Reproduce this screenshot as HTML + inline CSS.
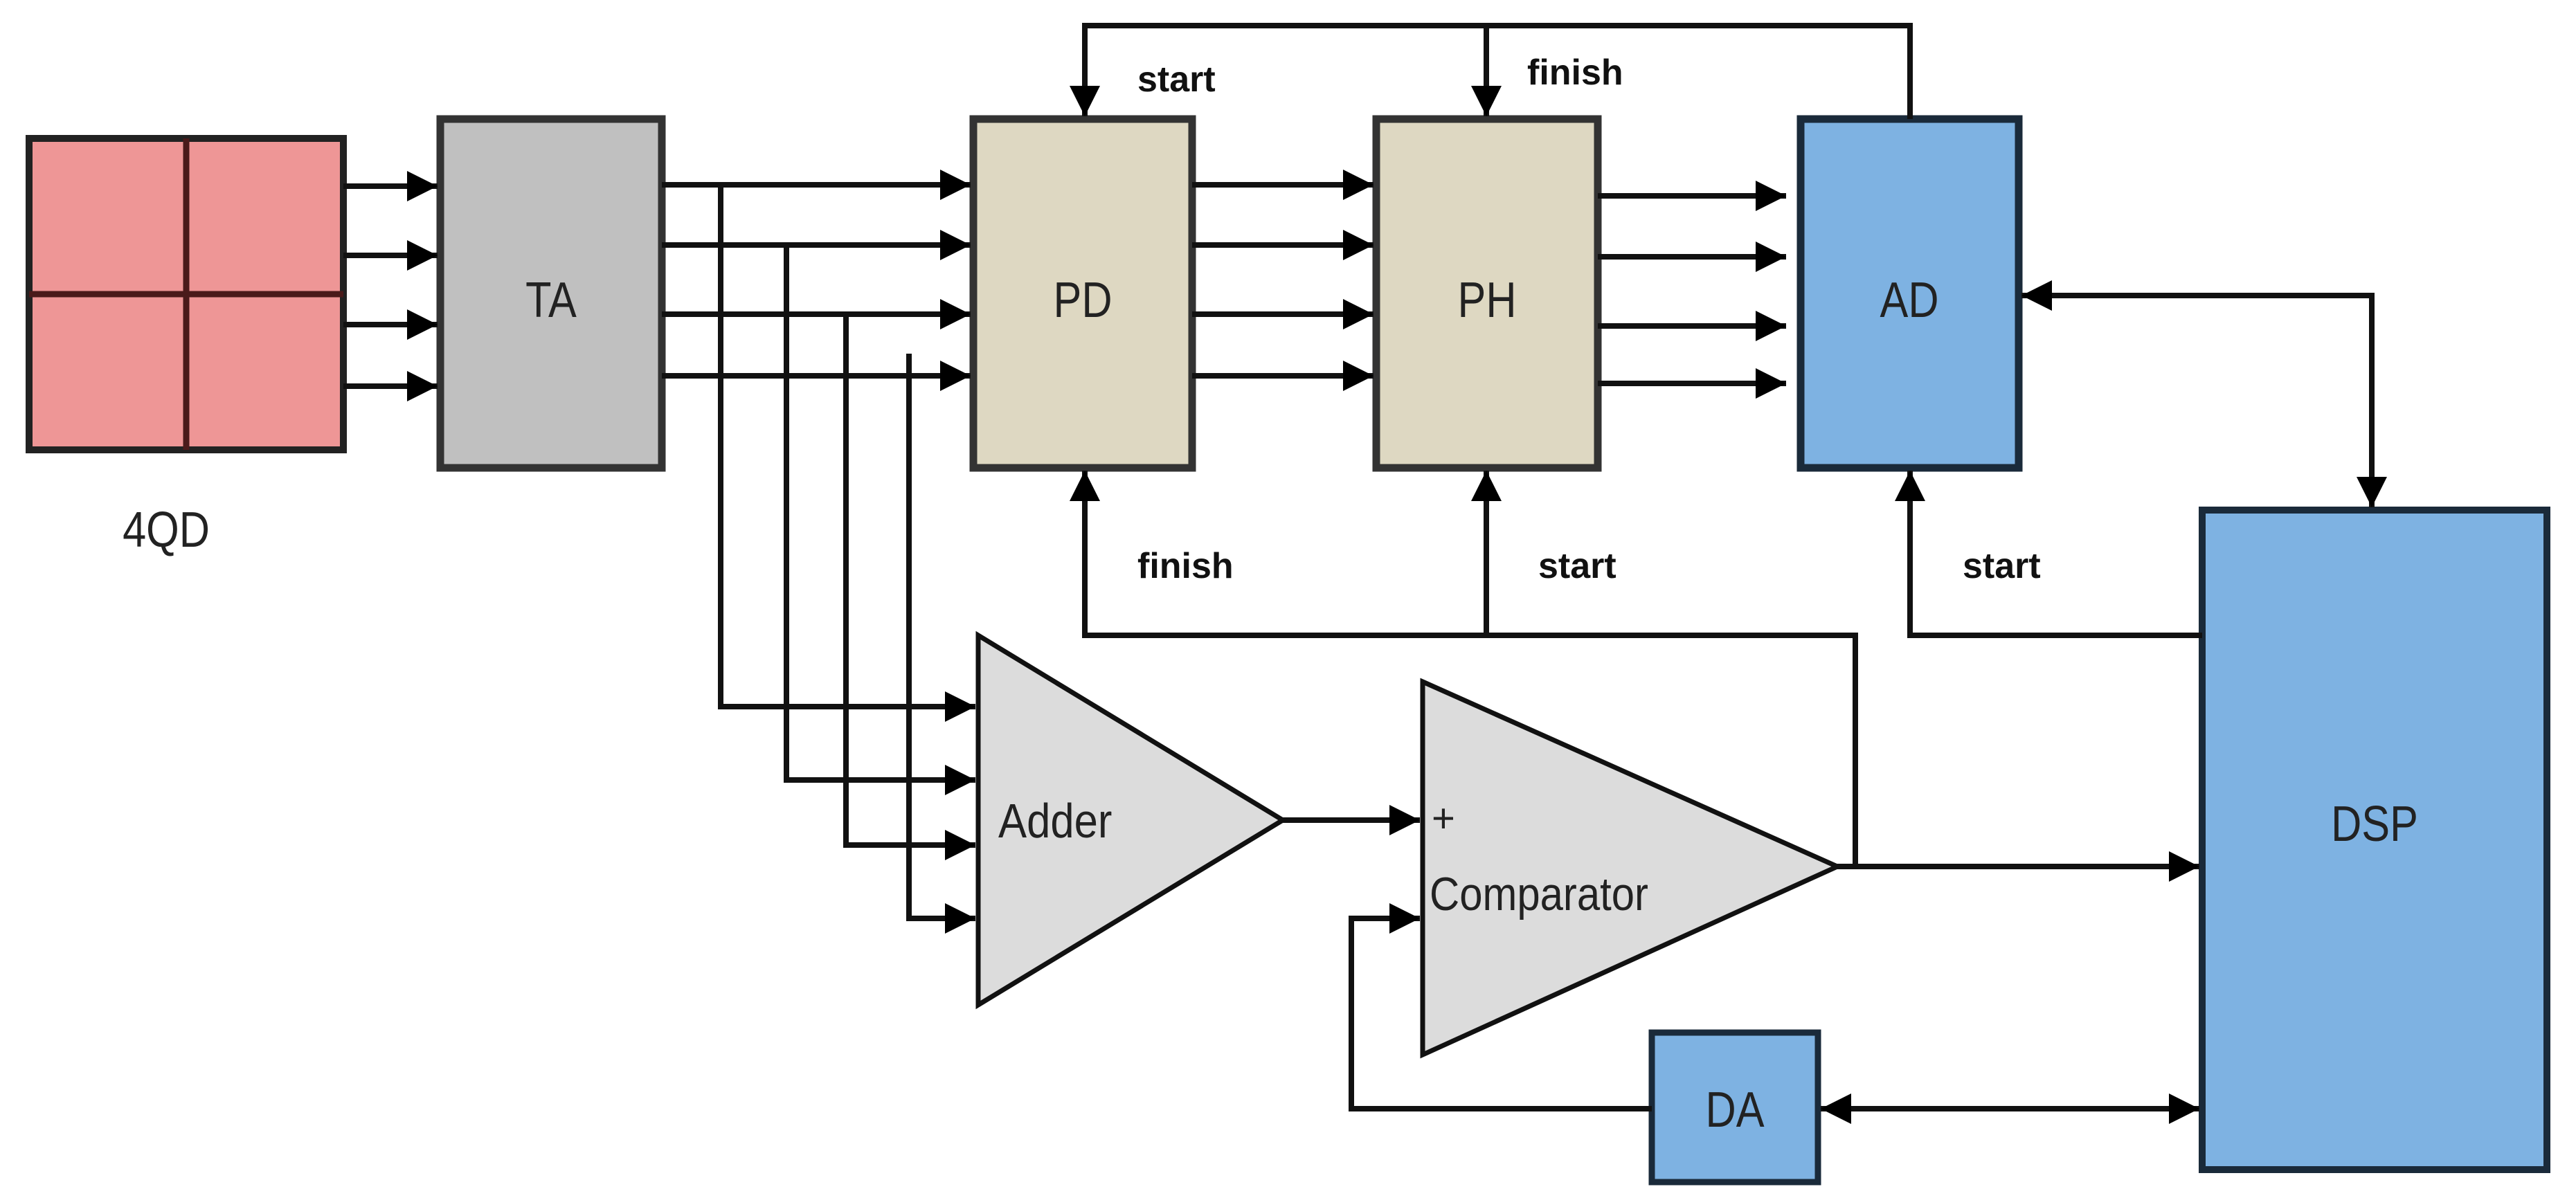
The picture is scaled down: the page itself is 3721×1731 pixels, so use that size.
<!DOCTYPE html>
<html><head><meta charset="utf-8"><style>
html,body{margin:0;padding:0;background:#fff}
svg{display:block}
.l{stroke:#111;stroke-width:8;fill:none}
.t{font-family:"Liberation Sans",sans-serif;fill:#222}
.b{font-family:"Liberation Sans",sans-serif;font-weight:bold;font-size:52px;fill:#111}
</style></head><body>
<svg width="3721" height="1731" viewBox="0 0 3721 1731" xmlns="http://www.w3.org/2000/svg">
<defs>
<marker id="a" viewBox="0 0 10 10" refX="10" refY="5" markerWidth="5.5" markerHeight="5.5" markerUnits="strokeWidth" orient="auto-start-reverse">
<path d="M0,0 L10,5 L0,10 z" fill="#000"/></marker>
</defs>
<!-- 4QD -->
<rect x="42" y="200" width="454" height="450" fill="#ee9696" stroke="#222" stroke-width="10"/>
<line x1="269" y1="200" x2="269" y2="650" stroke="#4a1a1a" stroke-width="9"/>
<line x1="42" y1="425" x2="496" y2="425" stroke="#4a1a1a" stroke-width="9"/>
<text transform="translate(240,790) scale(0.85,1)" class="t" font-size="72" text-anchor="middle">4QD</text>
<!-- TA -->
<rect x="636" y="172" width="320" height="504" fill="#c0c0c0" stroke="#333" stroke-width="11"/>
<text transform="translate(796,458) scale(0.85,1)" class="t" font-size="72" text-anchor="middle">TA</text>
<!-- PD -->
<rect x="1406" y="172" width="316" height="504" fill="#ded8c2" stroke="#333" stroke-width="11"/>
<text transform="translate(1564,458) scale(0.85,1)" class="t" font-size="72" text-anchor="middle">PD</text>
<!-- PH -->
<rect x="1988" y="172" width="320" height="504" fill="#ded8c2" stroke="#333" stroke-width="11"/>
<text transform="translate(2148,458) scale(0.85,1)" class="t" font-size="72" text-anchor="middle">PH</text>
<!-- AD -->
<rect x="2601" y="172" width="315" height="504" fill="#7eb2e2" stroke="#1a2a3a" stroke-width="11"/>
<text transform="translate(2758,458) scale(0.85,1)" class="t" font-size="72" text-anchor="middle">AD</text>
<!-- DSP -->
<rect x="3181" y="737" width="498" height="953" fill="#7eb2e2" stroke="#1a2a3a" stroke-width="10"/>
<text transform="translate(3430,1215) scale(0.85,1)" class="t" font-size="72" text-anchor="middle">DSP</text>
<!-- DA -->
<rect x="2386" y="1492" width="240" height="216" fill="#7eb2e2" stroke="#1a2a3a" stroke-width="9"/>
<text transform="translate(2506,1628) scale(0.85,1)" class="t" font-size="72" text-anchor="middle">DA</text>
<!-- Adder -->
<polygon points="1413,918 1853,1185 1413,1452" fill="#dcdcdc" stroke="#111" stroke-width="7"/>
<text transform="translate(1442,1210) scale(0.88,1)" class="t" font-size="70">Adder</text>
<!-- Comparator -->
<polygon points="2055,985 2654,1252 2055,1524" fill="#dcdcdc" stroke="#111" stroke-width="7"/>
<text x="2068" y="1202" class="t" font-size="58">+</text>
<text transform="translate(2065,1315) scale(0.88,1)" class="t" font-size="68">Comparator</text>

<g class="l" marker-end="url(#a)">
<line x1="496" y1="269" x2="632" y2="269"/>
<line x1="496" y1="369" x2="632" y2="369"/>
<line x1="496" y1="469" x2="632" y2="469"/>
<line x1="496" y1="558" x2="632" y2="558"/>
<line x1="956" y1="267" x2="1402" y2="267"/>
<line x1="956" y1="354" x2="1402" y2="354"/>
<line x1="956" y1="454" x2="1402" y2="454"/>
<line x1="956" y1="543" x2="1402" y2="543"/>
<line x1="1722" y1="267" x2="1984" y2="267"/>
<line x1="1722" y1="354" x2="1984" y2="354"/>
<line x1="1722" y1="454" x2="1984" y2="454"/>
<line x1="1722" y1="543" x2="1984" y2="543"/>
<line x1="2308" y1="283" x2="2580" y2="283"/>
<line x1="2308" y1="371" x2="2580" y2="371"/>
<line x1="2308" y1="471" x2="2580" y2="471"/>
<line x1="2308" y1="554" x2="2580" y2="554"/>
<polyline points="1041,267 1041,1021 1409,1021"/>
<polyline points="1136,354 1136,1127 1409,1127"/>
<polyline points="1222,454 1222,1221 1409,1221"/>
<polyline points="1313,511 1313,1327 1409,1327"/>
<line x1="1853" y1="1185" x2="2051" y2="1185"/>
<polyline points="2386,1602 1952,1602 1952,1327 2051,1327"/>
<line x1="2654" y1="1252" x2="3177" y2="1252"/>
<polyline points="2759,172 2759,37 1567,37 1567,168"/>
<line x1="2147" y1="37" x2="2147" y2="168"/>
<polyline points="2680,1252 2680,918 1567,918 1567,680"/>
<line x1="2147" y1="918" x2="2147" y2="680"/>
<polyline points="3181,918 2759,918 2759,680"/>
</g>
<polyline class="l" points="2920,427 3426,427 3426,733" marker-start="url(#a)" marker-end="url(#a)"/>
<line class="l" x1="2630" y1="1602" x2="3177" y2="1602" marker-start="url(#a)" marker-end="url(#a)"/>

<text x="1643" y="132" class="b">start</text>
<text x="2206" y="122" class="b">finish</text>
<text x="1643" y="835" class="b">finish</text>
<text x="2222" y="835" class="b">start</text>
<text x="2835" y="835" class="b">start</text>
</svg>
</body></html>
